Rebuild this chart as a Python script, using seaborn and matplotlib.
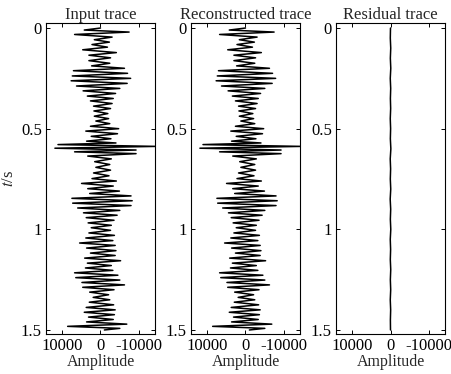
import numpy as np
import pandas as pd
import matplotlib
matplotlib.use("Agg")
import matplotlib.pyplot as plt
import seaborn as sns

### Dados: extremos do traço (tempo em s, amplitude)
t_in = [0.000, 0.010, 0.020, 0.032, 0.045, 0.058, 0.070, 0.082, 0.095, 0.108,
        0.122, 0.135, 0.148, 0.162, 0.175, 0.188, 0.200, 0.212, 0.225, 0.238,
        0.250, 0.262, 0.275, 0.288, 0.300, 0.312, 0.325, 0.338, 0.350, 0.362,
        0.375, 0.388, 0.400, 0.412, 0.425, 0.438, 0.450, 0.462, 0.475, 0.488,
        0.500, 0.512, 0.525, 0.538, 0.550, 0.562, 0.571, 0.579, 0.588, 0.597,
        0.606, 0.615, 0.624, 0.636, 0.650, 0.664, 0.678, 0.692, 0.706, 0.720,
        0.734, 0.748, 0.760, 0.772, 0.785, 0.798, 0.810, 0.822, 0.834, 0.846,
        0.858, 0.870, 0.882, 0.894, 0.906, 0.918, 0.930, 0.942, 0.955, 0.968,
        0.980, 0.992, 1.005, 1.018, 1.030, 1.043, 1.056, 1.068, 1.080, 1.093,
        1.106, 1.118, 1.130, 1.143, 1.156, 1.168, 1.180, 1.192, 1.204, 1.216,
        1.228, 1.240, 1.252, 1.264, 1.276, 1.288, 1.300, 1.312, 1.325, 1.338,
        1.350, 1.362, 1.375, 1.388, 1.400, 1.412, 1.424, 1.436, 1.448, 1.460,
        1.471, 1.482, 1.492, 1.500]
amp_in = [0, 4200, -7400, 6700, -3000, 1600, -2300, 2200, -1800, 4600,
          -4100, 3000, -2600, 3000, -2400, 2300, -6200, 7000, -7000, 7300,
          -7800, 7600, -6900, 6200, -5000, 4500, -3900, 3400, -3300, 2600,
          -3000, 1800, -2600, 1700, -1900, 1600, -2100, 1200, -2400, 2600,
          -4700, 3800, -4400, 2400, -2700, 3600, -4000, 11000, -14500, 11800,
          -9200, 6700, -9200, 3300, -2800, 1500, -2400, 1200, -2600, 1800,
          -2200, 2200, -4100, 4900, -3300, 3300, -4900, 2800, -7900, 7400,
          -8200, 7200, -7900, 5900, -5000, 4400, -4300, 3700, -3500, 3200,
          -2800, 2400, -2600, 3000, -3600, 3800, -3200, 5400, -3800, 3600,
          -4000, 2600, -3800, 4100, -5200, 3400, -2800, 3900, -3200, 6700,
          -4500, 6400, -5000, 4800, -6200, 4600, -3500, 2800, -2100, 1900,
          -2400, 2900, -3400, 3700, -3800, 4200, -3600, 3100, -3300, 3600,
          -6800, 8500, -5000, -1000]

# traço reconstruído: visualmente idêntico ao de entrada
t_rec = t_in
amp_rec = amp_in

# resíduo: quase nulo
t_res = [0.00, 0.05, 0.10, 0.15, 0.20, 0.25, 0.30, 0.35, 0.40, 0.45, 0.50,
         0.55, 0.60, 0.65, 0.70, 0.75, 0.80, 0.85, 0.90, 0.95, 1.00, 1.05,
         1.10, 1.15, 1.20, 1.25, 1.30, 1.35, 1.40, 1.45, 1.50]
amp_res = [0, 50, -60, 40, -70, 60, -50, 30, -40, 60, -30, 40,
           -90, 70, -30, 50, -60, 80, -50, 40, -70, 60, -30, 50,
           -60, 40, -50, 60, -40, 30, 0]

titulos = ["Input trace", "Reconstructed trace", "Residual trace"]
x_ticks = [10000, 0, -10000]
x_rotulos = ["10000", "0", "-10000"]
y_ticks = [0, 0.5, 1, 1.5]
y_rotulos = ["0", "0.5", "1", "1.5"]

### Estilo
sns.set_style("ticks")
plt.rcParams["font.family"] = ["Liberation Serif", "DejaVu Serif"]
plt.rcParams["mathtext.fontset"] = "stix"
plt.rcParams["font.size"] = 12
plt.rcParams["xtick.direction"] = "in"
plt.rcParams["ytick.direction"] = "in"

fig = plt.figure(figsize=(4.52, 3.74), dpi=100)
lefts = [46, 191, 336]
series = [(t_in, amp_in), (t_rec, amp_rec), (t_res, amp_res)]

for i, (tt, aa) in enumerate(series):
    ax = fig.add_axes([lefts[i] / 452, 40 / 374, 109 / 452, 311 / 374])
    dados = pd.DataFrame({"t": tt, "amp": aa})
    sns.lineplot(data=dados, x="amp", y="t", orient="y", sort=False,
                 estimator=None, color="black", linewidth=1.1, ax=ax)
    ax.set_xlim(14100, -14100)
    ax.set_ylim(1.52, -0.025)
    ax.set_xticks(x_ticks)
    ax.set_xticklabels(x_rotulos)
    ax.set_yticks(y_ticks)
    ax.set_yticklabels(y_rotulos)
    ax.tick_params(top=True, right=True, length=3, width=0.7, pad=3,
                   labelsize=12, colors="black")
    for s in ax.spines.values():
        s.set_linewidth(0.8)
        s.set_color("black")
    ax.set_title(titulos[i], fontsize=12, pad=3)
    ax.set_xlabel("Amplitude", fontsize=11.5, labelpad=0)
    if i == 0:
        ax.set_ylabel("$t$/s", fontsize=12, labelpad=3)
    else:
        ax.set_ylabel("")

fig.savefig("out.png", dpi=100)
